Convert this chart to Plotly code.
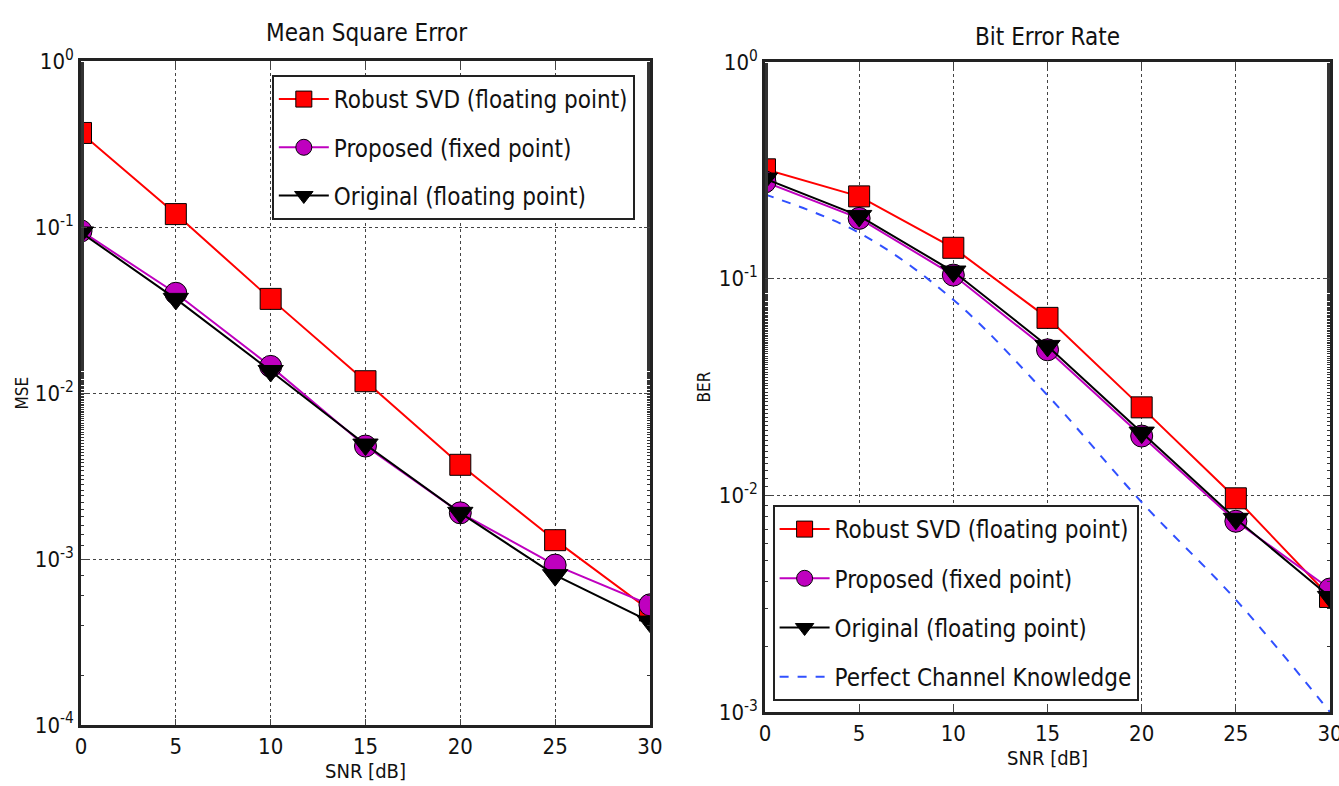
import plotly.graph_objects as go

snr = [0, 5, 10, 15, 20, 25, 30]

# Mean Square Error
mse_robust = [0.37, 0.12, 0.037, 0.0118, 0.0037, 0.0013, 0.00049]
mse_proposed = [0.095, 0.040, 0.0145, 0.0048, 0.0019, 0.00092, 0.00053]
mse_original = [0.093, 0.037, 0.0136, 0.0049, 0.0019, 0.00080, 0.00042]

# Bit Error Rate
ber_robust = [0.32, 0.24, 0.139, 0.066, 0.0255, 0.0097, 0.0034]
ber_proposed = [0.28, 0.19, 0.104, 0.047, 0.0188, 0.0076, 0.0037]
ber_original = [0.29, 0.195, 0.108, 0.049, 0.0195, 0.0078, 0.0034]
ber_perfect = [0.245, 0.163, 0.080, 0.029, 0.0093, 0.0033, 0.001]

names = ["Robust SVD (floating point)", "Proposed (fixed point)",
         "Original (floating point)", "Perfect Channel Knowledge"]

x_ticks = [0, 5, 10, 15, 20, 25, 30]
mse_tickvals = [1e-4, 1e-3, 1e-2, 1e-1, 1e0]
mse_ticktext = ["10<sup>-4</sup>", "10<sup>-3</sup>", "10<sup>-2</sup>", "10<sup>-1</sup>", "10<sup>0</sup>"]
ber_tickvals = [1e-3, 1e-2, 1e-1, 1e0]
ber_ticktext = ["10<sup>-3</sup>", "10<sup>-2</sup>", "10<sup>-1</sup>", "10<sup>0</sup>"]

FONT = "DejaVu Sans Condensed, DejaVu Sans, sans-serif"

RED = "#ff0000"
MAG = "#bf00bf"
BLK = "#000000"
BLUE = "#3050ff"

fig = go.Figure()

styles = [
    (RED, "square", 21),
    (MAG, "circle", 22),
    (BLK, "triangle-down", 22),
]

for i, (ys, (col, sym, sz)) in enumerate(zip([mse_robust, mse_proposed, mse_original], styles)):
    fig.add_trace(go.Scatter(
        x=snr, y=ys, mode="lines+markers", name=names[i],
        line=dict(color=col, width=2),
        marker=dict(symbol=sym, size=sz, color=col, line=dict(color="black", width=1)),
        xaxis="x", yaxis="y", legend="legend", legendgroup="a%d" % i,
    ))

for i, (ys, (col, sym, sz)) in enumerate(zip([ber_robust, ber_proposed, ber_original], styles)):
    fig.add_trace(go.Scatter(
        x=snr, y=ys, mode="lines+markers", name=names[i],
        line=dict(color=col, width=2),
        marker=dict(symbol=sym, size=sz, color=col, line=dict(color="black", width=1)),
        xaxis="x2", yaxis="y2", legend="legend2", legendgroup="b%d" % i,
    ))

fig.add_trace(go.Scatter(
    x=snr, y=ber_perfect, mode="lines", name=names[3],
    line=dict(color=BLUE, width=2, dash="dash", shape="spline"),
    xaxis="x2", yaxis="y2", legend="legend2", legendgroup="b3",
))

common_x = dict(
    range=[0, 30], tickvals=x_ticks, ticks="inside", ticklen=6,
    showline=True, linecolor="#222", linewidth=2.5, mirror="ticks",
    showgrid=True, gridcolor="#444", griddash="dot", gridwidth=1,
    zeroline=False, automargin=False, ticklabeloverflow="allow",
    tickfont=dict(family=FONT, size=22, color="#111"),
    title=dict(text="SNR [dB]", font=dict(family=FONT, size=20, color="#111"), standoff=2),
)
common_y = dict(
    type="log", ticks="inside", ticklen=6,
    showline=True, linecolor="#222", linewidth=2.5, mirror="ticks",
    showgrid=True, gridcolor="#444", griddash="dot", gridwidth=1,
    zeroline=False, automargin=False, ticklabeloverflow="allow",
    tickfont=dict(family=FONT, size=22, color="#111"),
    minor=dict(ticks="inside", ticklen=3, showgrid=False, tickcolor="#333"),
)

fig.update_layout(
    width=1339, height=786,
    margin=dict(l=0, r=0, t=0, b=0, autoexpand=False),
    paper_bgcolor="white", plot_bgcolor="white",
    showlegend=True,
    xaxis=dict(domain=[0.0605, 0.4854], anchor="y", **common_x),
    yaxis=dict(domain=[0.0776, 0.922], anchor="x", range=[-4, 0],
               tickvals=mse_tickvals, ticktext=mse_ticktext,
               title=dict(text="MSE", font=dict(family=FONT, size=17, color="#111"), standoff=2),
               **common_y),
    xaxis2=dict(domain=[0.5713, 0.9933], anchor="y2", **common_x),
    yaxis2=dict(domain=[0.094, 0.921], anchor="x2", range=[-3, 0],
                tickvals=ber_tickvals, ticktext=ber_ticktext,
                title=dict(text="BER", font=dict(family=FONT, size=17, color="#111"), standoff=4),
                **common_y),
    legend=dict(x=0.203, y=0.9046, xanchor="left", yanchor="top",
                bgcolor="white", bordercolor="#222", borderwidth=2,
                font=dict(family=FONT, size=24, color="#111"),
                tracegroupgap=14, traceorder="grouped", itemwidth=50),
    legend2=dict(x=0.577, y=0.3575, xanchor="left", yanchor="top",
                 bgcolor="white", bordercolor="#222", borderwidth=2,
                 font=dict(family=FONT, size=24, color="#111"),
                 tracegroupgap=15, traceorder="grouped", itemwidth=50),
    annotations=[
        dict(text="Mean Square Error", x=0.2735, y=1 - 33 / 786, xref="paper", yref="paper",
             xanchor="center", yanchor="middle",
             showarrow=False, font=dict(family=FONT, size=24, color="#111")),
        dict(text="Bit Error Rate", x=0.782, y=1 - 37 / 786, xref="paper", yref="paper",
             xanchor="center", yanchor="middle",
             showarrow=False, font=dict(family=FONT, size=24, color="#111")),
    ],
)

fig.write_html("out.html")
